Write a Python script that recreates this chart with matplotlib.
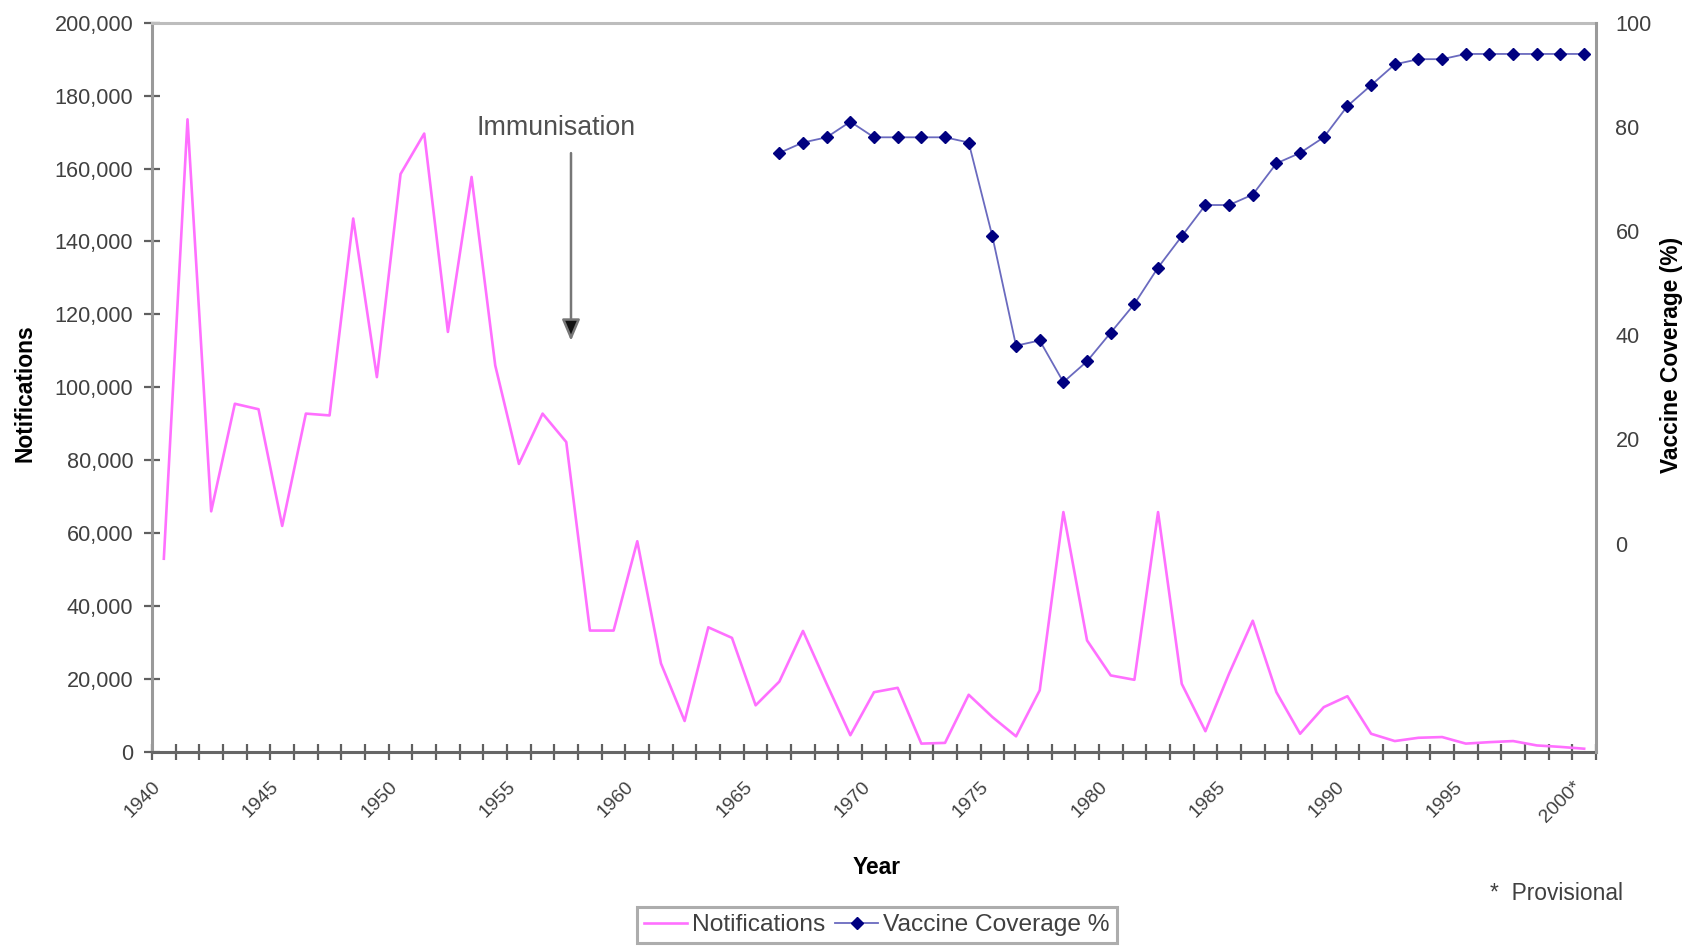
import matplotlib
matplotlib.use('Agg')
import matplotlib.pyplot as plt
from matplotlib import font_manager

years = list(range(1940, 2001))
notifications = [53000, 173500, 66000, 95500, 94000, 62000, 92800, 92300, 146300, 102800,
                 158500, 169600, 115200, 157700, 106000, 79000, 92800, 85000, 33300, 33300,
                 57800, 24300, 8500, 34200, 31300, 12800, 19300, 33200, 18700, 4600,
                 16400, 17600, 2300, 2500, 15700, 9600, 4300, 16900, 65800, 30600,
                 21000, 19800, 65800, 18700, 5700, 21500, 36000, 16400, 5000, 12300,
                 15300, 5000, 3000, 3900, 4100, 2300, 2700, 3000, 1800, 1400, 900]

cov_years = list(range(1966, 2001))
coverage = [75, 77, 78, 81, 78, 78, 78, 78, 77, 59,
            38, 39, 31, 35, 40.5, 46, 53, 59, 65, 65,
            67, 73, 75, 78, 84, 88, 92, 93, 93, 94,
            94, 94, 94, 94, 94]

label_years = list(range(1940, 2001, 5))
label_text = [str(y) for y in label_years[:-1]] + ['2000*']

# narrow font looks closest to the squashed text of the original
names = {f.name for f in font_manager.fontManager.ttflist}
if 'Liberation Sans Narrow' in names:
    fam, k = 'Liberation Sans Narrow', 1.0
else:
    fam, k = 'Liberation Sans', 0.82
plt.rcParams['font.family'] = [fam, 'DejaVu Sans']

fs_tick = 19 * k
fs_xtick = 17 * k
fs_lab = 20 * k
fs_note = 23.5 * k
fs_leg = 21.5 * k
txt_col = '#404040'

W, H = 1694, 947
fig = plt.figure(figsize=(W / 100, H / 100), dpi=100)
ax = fig.add_axes([152 / W, 1 - 752 / H, (1596 - 152) / W, (752 - 22.7) / H])

x_pos = [y - 1940 for y in years]
cov_pos = [y - 1940 for y in cov_years]

ax.plot(x_pos, notifications, color='#ff70ff', lw=1.9, zorder=3)
ax.set_xlim(-0.5, len(years) - 0.5)
ax.set_ylim(0, 200000)
ax.set_yticks(range(0, 200001, 20000))
ax.set_yticklabels(['{:,}'.format(v) for v in range(0, 200001, 20000)])

# ticks between categories, labels at the category centres
ax.set_xticks([i - 0.5 for i in range(len(years) + 1)])
ax.set_xticklabels([])
ax.set_xticks([y - 1940 for y in label_years], minor=True)
ax.set_xticklabels(label_text, minor=True, rotation=45, ha='right', va='top',
                   fontsize=fs_xtick, color=txt_col)
ax.tick_params(axis='x', which='major', direction='inout', length=11, width=1.6, color='#606060')
ax.tick_params(axis='x', which='minor', length=0, pad=19)
ax.tick_params(axis='y', direction='inout', length=11, width=1.6, color='#606060',
               labelsize=fs_tick, labelcolor=txt_col, pad=8)

for s in ['top', 'left', 'right', 'bottom']:
    ax.spines[s].set_linewidth(2.2)
ax.spines['top'].set_color('#bdbdbd')
ax.spines['left'].set_color('#9a9a9a')
ax.spines['bottom'].set_color('#666666')
ax.spines['right'].set_visible(False)

ax.set_xlabel('Year', fontsize=fs_lab, fontweight='bold')
ax.xaxis.set_label_coords(0.502, -0.159)
ax.xaxis.label.set_va('center')
ax.set_ylabel('Notifications', fontsize=fs_lab, fontweight='bold')
ax.yaxis.set_label_coords(-0.088, 0.492)
ax.yaxis.label.set_va('center')

ax2 = ax.twinx()
ax2.plot(cov_pos, coverage, color='#6a6abf', lw=1.3, marker='D', markersize=6,
         markerfacecolor='#000080', markeredgecolor='#000080', zorder=4)
ax2.set_ylim(-40, 100)
ax2.set_yticks(range(0, 101, 20))
ax2.tick_params(axis='y', length=0, labelsize=fs_tick, labelcolor=txt_col, pad=14)
for s in ['top', 'left', 'bottom']:
    ax2.spines[s].set_visible(False)
ax2.spines['right'].set_color('#9a9a9a')
ax2.spines['right'].set_linewidth(2.2)
ax2.set_ylabel('Vaccine Coverage (%)', fontsize=fs_lab, fontweight='bold', rotation=90)
ax2.yaxis.set_label_coords(1.0526, 0.545)
ax2.yaxis.label.set_va('center')

# immunisation marker
ax.annotate('', xy=(17.2, 112000), xytext=(17.2, 165000),
            arrowprops=dict(arrowstyle='-|>,head_width=0.55,head_length=1.3',
                            fc='#111111', ec='#777777', lw=1.8))
ax.text(16.57, 171200, 'Immunisation', ha='center', va='center', fontsize=fs_note, color='#505050')

leg = fig.legend(ax.get_lines() + ax2.get_lines(), ['Notifications', 'Vaccine Coverage %'],
                 loc='center', bbox_to_anchor=(877 / W, 1 - 925 / H), ncol=2,
                 fontsize=fs_leg, frameon=True, fancybox=False, handlelength=1.75,
                 handletextpad=0.2, columnspacing=0.4, borderpad=0.3, borderaxespad=0)
for t in leg.get_texts():
    t.set_color(txt_col)
leg.get_frame().set_edgecolor('#999999')
leg.get_frame().set_linewidth(2.2)

fig.text(1490 / W, 1 - 893 / H, '*  Provisional', fontsize=fs_lab, color=txt_col,
         ha='left', va='center')

fig.savefig('out.png', dpi=100)
